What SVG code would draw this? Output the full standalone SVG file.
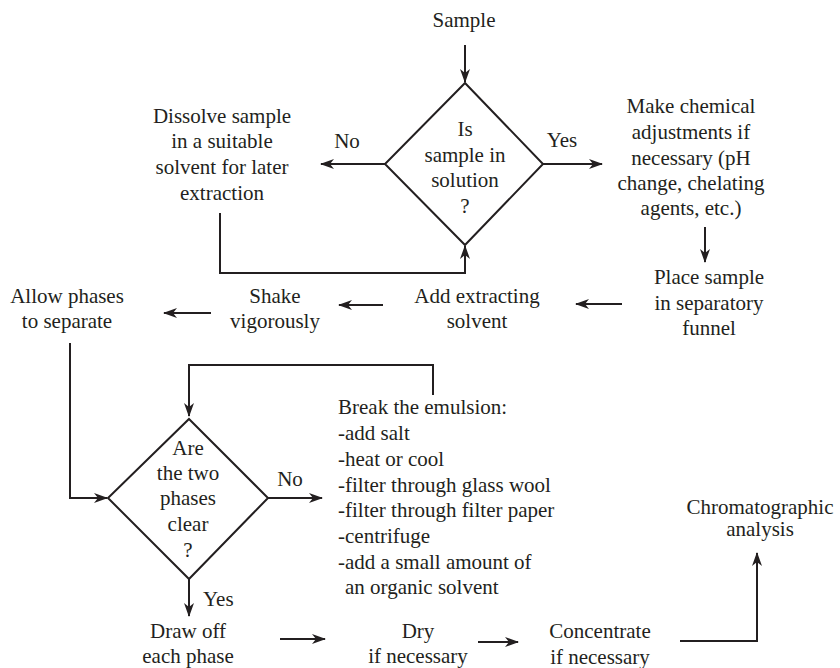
<svg xmlns="http://www.w3.org/2000/svg" width="840" height="668" viewBox="0 0 840 668">
<style>
text{font-family:'Liberation Serif','Times New Roman',Tinos,'DejaVu Serif','Noto Serif',serif;font-size:21px;fill:#231f20}
.c{text-anchor:middle}
.s{text-anchor:start}
.shape{fill:none;stroke:#231f20;stroke-width:2}
.conn path{fill:none;stroke:#231f20;stroke-width:2}
.arr{marker-end:url(#ah)}
</style>
<defs>
<marker id="ah" viewBox="0 0 14 10" refX="13" refY="5" markerWidth="14" markerHeight="10" markerUnits="userSpaceOnUse" orient="auto">
<path d="M0,0 L14,5 L0,10 L4,5 z" fill="#231f20"/>
</marker>
</defs>
<rect width="840" height="668" fill="#fff"/>
<g font-family="Liberation Serif, Times New Roman, serif">
<g class="conn" id="connectors">
<path class="arr" d="M465,45 L465,82"/>
<path class="arr" d="M385,164 L321,164"/>
<path class="arr" d="M543,164 L602,164"/>
<path class="arr" d="M705,227 L705,262"/>
<path class="arr" d="M622,304 L576,304"/>
<path class="arr" d="M383,305 L339,305"/>
<path class="arr" d="M211,313 L164,313"/>
<path class="arr" d="M220,213 L220,273 L465,273 L465,246"/>
<path class="arr" d="M70,343 L70,498 L107,498"/>
<path class="arr" d="M433,395 L433,365 L189,365 L189,416"/>
<path class="arr" d="M268,498 L322,498"/>
<path class="arr" d="M189,579 L189,616"/>
<path class="arr" d="M280,639 L325,639"/>
<path class="arr" d="M478,642 L518,642"/>
<path class="arr" d="M680,641 L757,641 L757,553"/>
<text class="c" x="347" y="148">No</text>
<text class="c" x="562" y="147">Yes</text>
<text class="c" x="290" y="486">No</text>
<text class="s" x="203" y="606">Yes</text>
</g>
<g id="sample"><text class="c" x="464" y="27">Sample</text></g>
<g id="decision1">
<polygon class="shape" points="465,83 543,164 465,245 385,164"/>
<text class="c" x="465" y="136">Is</text>
<text class="c" x="465" y="162">sample in</text>
<text class="c" x="465" y="187">solution</text>
<text class="c" x="465" y="213">?</text>
</g>
<g id="dissolve">
<text class="c" x="222" y="123">Dissolve sample</text>
<text class="c" x="222" y="148">in a suitable</text>
<text class="c" x="222" y="174">solvent for later</text>
<text class="c" x="222" y="200">extraction</text>
</g>
<g id="adjust">
<text class="c" x="691" y="113">Make chemical</text>
<text class="c" x="691" y="139">adjustments if</text>
<text class="c" x="691" y="165">necessary (pH</text>
<text class="c" x="691" y="190">change, chelating</text>
<text class="c" x="691" y="215">agents, etc.)</text>
</g>
<g id="place">
<text class="c" x="709" y="284">Place sample</text>
<text class="c" x="709" y="310">in separatory</text>
<text class="c" x="709" y="335">funnel</text>
</g>
<g id="add">
<text class="c" x="477" y="303">Add extracting</text>
<text class="c" x="477" y="328">solvent</text>
</g>
<g id="shake">
<text class="c" x="275" y="303">Shake</text>
<text class="c" x="275" y="328">vigorously</text>
</g>
<g id="allow">
<text class="c" x="67" y="303">Allow phases</text>
<text class="c" x="67" y="328">to separate</text>
</g>
<g id="decision2">
<polygon class="shape" points="189,419 268,498 189,579 108,498"/>
<text class="c" x="188" y="455">Are</text>
<text class="c" x="188" y="480">the two</text>
<text class="c" x="188" y="505">phases</text>
<text class="c" x="188" y="531">clear</text>
<text class="c" x="188" y="557">?</text>
</g>
<g id="break">
<text class="s" x="338" y="414">Break the emulsion:</text>
<text class="s" x="338" y="440">-add salt</text>
<text class="s" x="338" y="466">-heat or cool</text>
<text class="s" x="338" y="492">-filter through glass wool</text>
<text class="s" x="338" y="517">-filter through filter paper</text>
<text class="s" x="338" y="543">-centrifuge</text>
<text class="s" x="338" y="569">-add a small amount of</text>
<text class="s" x="345" y="594">an organic solvent</text>
</g>
<g id="draw">
<text class="c" x="188" y="638">Draw off</text>
<text class="c" x="188" y="663">each phase</text>
</g>
<g id="dry">
<text class="c" x="418" y="638">Dry</text>
<text class="c" x="418" y="663">if necessary</text>
</g>
<g id="concentrate">
<text class="c" x="600" y="638">Concentrate</text>
<text class="c" x="600" y="664">if necessary</text>
</g>
<g id="chromatographic">
<text class="c" x="760" y="514">Chromatographic</text>
<text class="c" x="760" y="536">analysis</text>
</g>
</g>
</svg>
